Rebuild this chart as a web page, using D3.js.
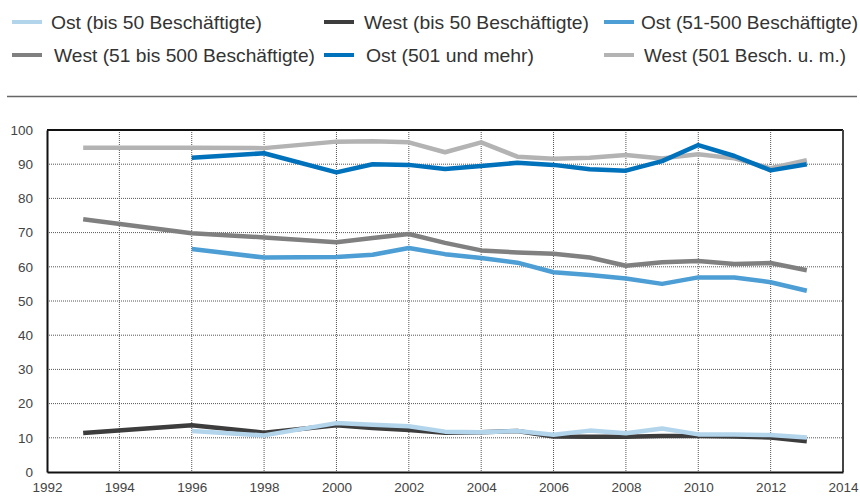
<!DOCTYPE html>
<html>
<head>
<meta charset="utf-8">
<script src="https://cdn.jsdelivr.net/npm/d3@7"></script>
<style>
  body { margin: 0; background: #fff; }
  svg { display: block; }
</style>
</head>
<body>
<script>
// data (share in %)
var years = [1993, 1996, 1998, 2000, 2001, 2002, 2003, 2004, 2005, 2006, 2007, 2008, 2009, 2010, 2011, 2012, 2013];

var ostBis50  = [null, 12.0, 10.7, 14.3, 13.8, 13.4, 11.8, 11.6, 12.0, 10.9, 12.1, 11.3, 12.7, 11.0, 11.0, 10.8, 10.1];
var westBis50 = [11.4, 13.7, 11.5, 13.7, 12.9, 12.3, 11.5, 11.6, 12.0, 10.4, 10.3, 10.3, 10.5, 10.5, 10.4, 10.1, 9.0];
var ost51     = [null, 65.2, 62.7, 62.9, 63.5, 65.5, 63.7, 62.6, 61.2, 58.4, 57.6, 56.6, 55.0, 56.9, 56.9, 55.5, 53.0];
var west51    = [73.9, 69.8, 68.6, 67.2, 68.4, 69.6, 67.0, 64.8, 64.2, 63.8, 62.7, 60.3, 61.3, 61.7, 60.8, 61.1, 59.0];
var ost501    = [null, 91.9, 93.2, 87.6, 90.0, 89.8, 88.6, 89.5, 90.4, 89.8, 88.5, 88.1, 90.9, 95.6, 92.4, 88.2, 90.0];
var west501   = [94.8, 94.8, 94.7, 96.6, 96.7, 96.4, 93.5, 96.4, 92.2, 91.6, 91.9, 92.7, 91.7, 92.9, 91.7, 88.8, 91.2];

var seriesNames = ["Ost (bis 50 Beschäftigte)", "West (bis 50 Beschäftigte)", "Ost (51-500 Beschäftigte)",
                   "West (51 bis 500 Beschäftigte)", "Ost (501 und mehr)", "West (501 Besch. u. m.)"];
var seriesValues = [ostBis50, westBis50, ost51, west51, ost501, west501];
var seriesColors = ["#b3d5ec", "#3d3d3d", "#4c9ed4", "#808080", "#0071bb", "#b3b3b3"];

var xTicks = [1992, 1994, 1996, 1998, 2000, 2002, 2004, 2006, 2008, 2010, 2012, 2014];
var yTicks = [0, 10, 20, 30, 40, 50, 60, 70, 80, 90, 100];

function init() {
    var width = 860;
    var height = 496;
    var margin = { top: 130, right: 17, bottom: 24, left: 47 };

    var svg = d3.select("body").append("svg")
        .attr("width", width)
        .attr("height", height);

    var x = d3.scaleLinear().domain([1992, 2014]).range([margin.left, width - margin.right]);
    var y = d3.scaleLinear().domain([0, 100]).range([height - margin.bottom, margin.top]);

    // legend, two rows of three
    var swatchX = [12, 324, 604];
    var rowY = [22, 55];
    var textX = [51, 364, 641, 54, 366, 644];
    var textW = [211, 225, 217, 261, 168, 202];
    var legend = svg.append("g").attr("class", "legend");
    seriesNames.forEach(function(name, i) {
        var col = i % 3, row = Math.floor(i / 3);
        legend.append("rect")
            .attr("x", swatchX[col])
            .attr("y", rowY[row] - 2)
            .attr("width", 30)
            .attr("height", 4)
            .attr("fill", seriesColors[i]);
        legend.append("text")
            .attr("x", textX[i])
            .attr("y", rowY[row])
            .attr("dy", "0.36em")
            .attr("font-family", "'Liberation Sans', Arial, sans-serif")
            .attr("font-size", "19px")
            .attr("textLength", textW[i])
            .attr("lengthAdjust", "spacingAndGlyphs")
            .attr("fill", "#333")
            .text(name);
    });

    // separator line under the legend
    svg.append("line")
        .attr("x1", 7).attr("x2", 857)
        .attr("y1", 96.5).attr("y2", 96.5)
        .attr("stroke", "#666")
        .attr("stroke-width", 1.5);

    // grid
    var grid = svg.append("g").attr("class", "grid");
    grid.selectAll("line.h")
        .data(yTicks.filter(function(d) { return d > 0 && d < 100; }))
        .enter().append("line")
        .attr("x1", x(1992)).attr("x2", x(2014))
        .attr("y1", function(d) { return y(d); })
        .attr("y2", function(d) { return y(d); })
        .attr("stroke", "#555")
        .attr("stroke-width", 1)
        .attr("stroke-dasharray", "1,1");
    grid.selectAll("line.v")
        .data(xTicks.filter(function(d) { return d > 1992 && d < 2014; }))
        .enter().append("line")
        .attr("x1", function(d) { return x(d); })
        .attr("x2", function(d) { return x(d); })
        .attr("y1", y(100)).attr("y2", y(0))
        .attr("stroke", "#555")
        .attr("stroke-width", 1)
        .attr("stroke-dasharray", "1,1");

    // lines, drawn so that the lighter ones sit where the reference has them
    var drawOrder = [1, 0, 3, 2, 5, 4];
    var line = d3.line()
        .defined(function(d) { return d.v != null; })
        .x(function(d) { return x(d.year); })
        .y(function(d) { return y(d.v); });

    drawOrder.forEach(function(i) {
        var pts = years.map(function(yr, j) { return { year: yr, v: seriesValues[i][j] }; });
        svg.append("path")
            .datum(pts)
            .attr("fill", "none")
            .attr("stroke", seriesColors[i])
            .attr("stroke-width", 4.5)
            .attr("stroke-linejoin", "round")
            .attr("d", line);
    });

    // frame
    svg.append("line")
        .attr("x1", x(1992)).attr("x2", x(2014))
        .attr("y1", y(100)).attr("y2", y(100))
        .attr("stroke", "#111").attr("stroke-width", 2);
    svg.append("line")
        .attr("x1", x(2014)).attr("x2", x(2014))
        .attr("y1", y(100)).attr("y2", y(0))
        .attr("stroke", "#444").attr("stroke-width", 2);

    // axes
    var xAxis = d3.axisBottom(x).tickValues(xTicks).tickFormat(d3.format("d")).tickSize(0).tickPadding(10);
    var yAxis = d3.axisLeft(y).tickValues(yTicks).tickSize(0).tickPadding(14);

    var gx = svg.append("g")
        .attr("transform", "translate(0," + y(0) + ")")
        .call(xAxis);
    var gy = svg.append("g")
        .attr("transform", "translate(" + x(1992) + ",0)")
        .call(yAxis);

    [gx, gy].forEach(function(g) {
        g.select(".domain").attr("stroke", "#111").attr("stroke-width", 2);
        g.selectAll("text")
            .attr("font-family", "'Liberation Sans', Arial, sans-serif")
            .attr("font-size", "13.5px")
            .attr("fill", "#444");
    });
}

window.onload = init;
</script>
</body>
</html>
